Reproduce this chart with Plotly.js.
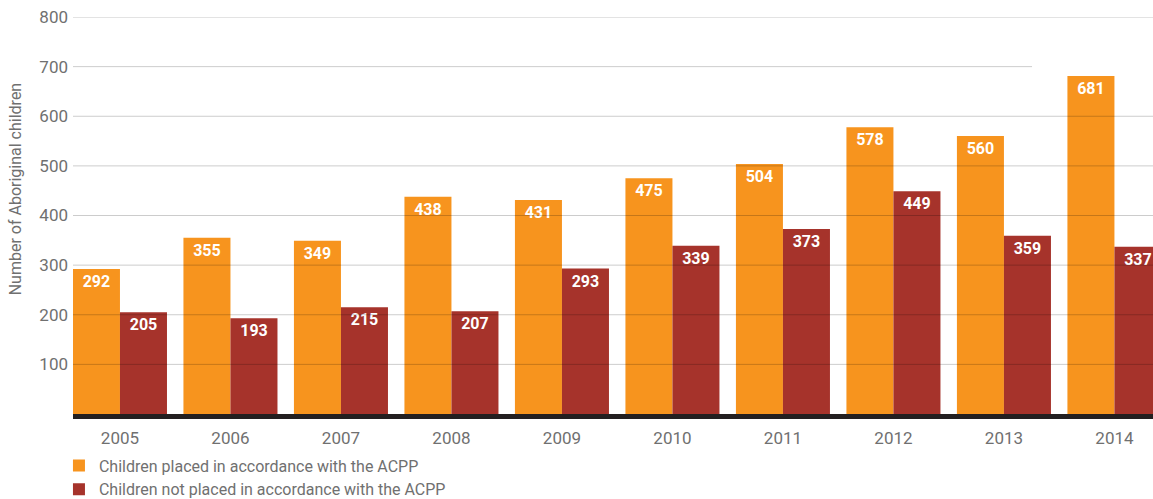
<!DOCTYPE html>
<html>
<head>
<meta charset="utf-8">
<script src="https://cdn.plot.ly/plotly-3.0.1.min.js"></script>
<style>
html,body{margin:0;padding:0;background:#fff;}
#chart{width:1153px;height:499px;}
</style>
</head>
<body>
<div id="chart"></div>
<script>
const years = ['2005','2006','2007','2008','2009','2010','2011','2012','2013','2014'];
const placed = [292,355,349,438,431,475,504,578,560,681];
const notPlaced = [205,193,215,207,293,339,373,449,359,337];
const seriesNames = ['Children placed in accordance with the ACPP','Children not placed in accordance with the ACPP'];
const yTicks = [100,200,300,400,500,600,700,800];
const yTitle = 'Number of Aboriginal children';

const FONT = 'Roboto, "Open Sans", sans-serif';
const GREY = '#707070';

const mk = (vals, name, color) => ({
  type: 'bar', x: years, y: vals, name: name,
  marker: {color: color, line: {width: 0}},
  text: vals.map(String), textposition: 'inside', insidetextanchor: 'end',
  constraintext: 'none', cliponaxis: true,
  textfont: {family: FONT, size: 16, color: '#ffffff', weight: 'bold'},
  hoverinfo: 'x+y'
});

const traces = [mk(placed, seriesNames[0], '#f7941e'), mk(notPlaced, seriesNames[1], '#a6332b')];

const grid = yTicks.map(v => ({
  type: 'line', xref: 'paper', yref: 'y', x0: 0, x1: v === 700 ? 0.888 : 1, y0: v, y1: v,
  layer: 'above',
  line: {color: v === 800 ? 'rgba(0,0,0,0.11)' : 'rgba(0,0,0,0.2)', width: v === 800 ? 2 : 1}
}));

const layout = {
  width: 1153, height: 499,
  margin: {l: 73, r: 0, t: 17, b: 85.4, autoexpand: false},
  paper_bgcolor: '#fff', plot_bgcolor: '#fff',
  barmode: 'group', bargap: 0.149, bargroupgap: 0,
  font: {family: FONT, color: GREY},
  showlegend: true,
  legend: {orientation: 'v', x: -0.013, xanchor: 'left', y: -0.087, yanchor: 'top',
           font: {family: FONT, size: 16, color: GREY}, tracegroupgap: 0, itemwidth: 30,
           bgcolor: 'rgba(0,0,0,0)'},
  xaxis: {type: 'category', range: [-0.425, 9.349], showgrid: false, zeroline: false,
          showline: true, linecolor: '#231f20', linewidth: 5, ticks: '',
          ticklabelstandoff: 5,
          tickfont: {family: FONT, size: 17, color: GREY}, fixedrange: true},
  yaxis: {range: [0, 800], tickvals: yTicks, ticktext: yTicks.map(String), showgrid: false,
          zeroline: false, showline: false, ticks: '', ticklabelstandoff: 4,
          tickfont: {family: FONT, size: 17, color: GREY},
          fixedrange: true},
  annotations: [{
    text: yTitle, xref: 'paper', yref: 'paper', x: -0.0537, y: 0.566,
    xanchor: 'center', yanchor: 'middle', textangle: -90, showarrow: false,
    font: {family: FONT, size: 16, color: GREY}
  }],
  shapes: grid
};

Plotly.newPlot('chart', traces, layout, {displayModeBar: false, staticPlot: true});
</script>
</body>
</html>
